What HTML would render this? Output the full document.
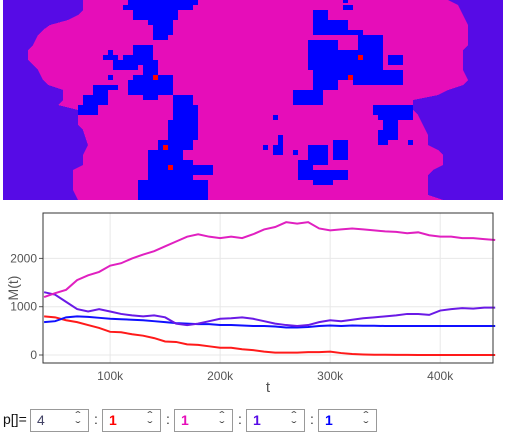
<!DOCTYPE html>
<html><head><meta charset="utf-8"><style>
body{margin:0;width:506px;height:434px;background:#fff;overflow:hidden;font-family:"Liberation Sans","DejaVu Sans",sans-serif;position:relative}
.ctl{position:absolute;top:409px;height:23px;width:59px;border:1px solid #999;box-sizing:border-box;font-size:14px;line-height:21px;padding-left:6px;font-weight:bold}
.sp{position:absolute;right:8px;top:1px;font-size:12px;line-height:10px;color:#444;font-weight:normal;text-align:center;transform:scaleX(1.3)}
.sep{position:absolute;top:411px;font-size:14px;color:#333}
</style></head><body>
<svg style="position:absolute;left:0;top:0" width="506" height="200" shape-rendering="crispEdges">
<rect x="3" y="0" width="500" height="200" fill="#e60db9"/>
<polygon fill="#560be6" points="3,0 83,0 83,10 78,15 68,20 50,25 43,30 38,35 33,45 28,50 28,60 33,65 38,70 43,80 48,85 63,90 63,100 58,105 78,110 78,125 83,130 88,145 83,155 83,165 73,170 73,190 78,200 3,200"/>
<polygon fill="#560be6" points="448,0 458,5 463,15 468,25 468,45 463,50 463,70 468,80 463,85 448,90 438,95 413,100 413,110 418,115 423,125 428,135 428,145 438,150 443,155 443,165 433,170 428,175 428,195 443,200 503,200 503,0"/>
<g fill="#0000ff">
<rect x="128" y="0" width="70" height="5"/><rect x="123" y="5" width="70" height="5"/><rect x="133" y="10" width="45" height="10"/><rect x="148" y="20" width="25" height="5"/><rect x="153" y="25" width="20" height="10"/><rect x="153" y="35" width="15" height="5"/>
<rect x="133" y="45" width="20" height="20"/><rect x="108" y="50" width="5" height="5"/><rect x="103" y="55" width="15" height="5"/><rect x="123" y="55" width="15" height="5"/><rect x="113" y="60" width="25" height="10"/><rect x="143" y="60" width="15" height="15"/><rect x="108" y="75" width="5" height="5"/><rect x="133" y="75" width="40" height="5"/><rect x="128" y="80" width="45" height="15"/><rect x="93" y="85" width="25" height="5"/><rect x="93" y="90" width="15" height="5"/><rect x="83" y="95" width="25" height="10"/><rect x="143" y="95" width="15" height="5"/><rect x="78" y="105" width="20" height="10"/>
<rect x="173" y="95" width="20" height="25"/><rect x="183" y="105" width="15" height="20"/><rect x="168" y="120" width="30" height="20"/><rect x="158" y="140" width="35" height="10"/><rect x="148" y="150" width="35" height="10"/><rect x="148" y="165" width="65" height="10"/><rect x="148" y="160" width="45" height="40"/><rect x="138" y="180" width="70" height="20"/>
<rect x="313" y="10" width="15" height="20"/><rect x="323" y="20" width="25" height="10"/><rect x="313" y="30" width="50" height="5"/><rect x="358" y="35" width="25" height="45"/><rect x="308" y="40" width="30" height="30"/><rect x="338" y="50" width="20" height="30"/><rect x="313" y="60" width="25" height="30"/><rect x="293" y="90" width="30" height="15"/><rect x="353" y="70" width="50" height="15"/><rect x="388" y="55" width="15" height="10"/><rect x="343" y="5" width="10" height="5"/><rect x="343" y="0" width="5" height="3"/>
<rect x="373" y="105" width="40" height="10"/><rect x="378" y="110" width="35" height="10"/><rect x="383" y="120" width="15" height="20"/><rect x="378" y="130" width="10" height="15"/>
<rect x="333" y="140" width="15" height="20"/><rect x="308" y="145" width="20" height="20"/><rect x="298" y="160" width="15" height="20"/><rect x="303" y="170" width="45" height="10"/><rect x="313" y="175" width="20" height="10"/>
<rect x="273" y="115" width="5" height="5"/><rect x="278" y="135" width="5" height="10"/><rect x="263" y="145" width="5" height="5"/><rect x="273" y="145" width="10" height="10"/><rect x="293" y="150" width="5" height="5"/><rect x="408" y="140" width="5" height="5"/>
</g>
<g fill="#ff0000"><rect x="153" y="75" width="5" height="5"/><rect x="163" y="145" width="5" height="5"/><rect x="168" y="165" width="5" height="5"/><rect x="358" y="55" width="5" height="5"/><rect x="348" y="75" width="5" height="5"/></g>
</svg>
<svg id="chart" style="position:absolute;left:0;top:200px" width="506" height="200"></svg>
<span style="position:absolute;left:3px;top:411px;font-size:14px;color:#111">p[]=</span>
<div class="ctl" style="left:30px;color:#446;font-weight:normal">4<span class="sp">ˆ<br>ˇ</span></div>
<span class="sep" style="left:94px">:</span>
<div class="ctl" style="left:102px;color:#f00">1<span class="sp">ˆ<br>ˇ</span></div>
<span class="sep" style="left:166px">:</span>
<div class="ctl" style="left:174px;color:#e60db9">1<span class="sp">ˆ<br>ˇ</span></div>
<span class="sep" style="left:238px">:</span>
<div class="ctl" style="left:246px;color:#560be6">1<span class="sp">ˆ<br>ˇ</span></div>
<span class="sep" style="left:310px">:</span>
<div class="ctl" style="left:318px;color:#00f">1<span class="sp">ˆ<br>ˇ</span></div>
<script>
const tValues=[40,50,60,70,80,90,100,110,120,130,140,150,160,170,180,190,200,210,220,230,240,250,260,270,280,290,300,310,320,330,340,350,360,370,380,390,400,410,420,430,440,450];
const pinkSeries=[1200,1280,1350,1550,1650,1720,1850,1900,2000,2080,2150,2250,2350,2450,2500,2450,2420,2450,2420,2500,2600,2650,2750,2720,2750,2620,2580,2600,2620,2600,2580,2560,2550,2520,2540,2480,2450,2450,2420,2420,2400,2380];
const purpleSeries=[1300,1250,1100,950,900,950,900,850,820,800,820,780,650,620,650,700,750,760,780,750,700,650,620,600,620,680,720,700,730,760,780,800,820,850,850,830,920,950,970,960,980,980];
const blueSeries=[680,700,780,800,790,770,750,740,730,720,700,680,660,650,640,640,620,620,610,600,600,590,570,570,580,600,610,600,610,605,605,600,600,600,600,600,600,600,600,600,600,600];
const redSeries=[800,780,720,680,620,560,480,470,430,400,350,280,270,220,210,180,150,150,120,100,70,50,50,50,60,60,70,40,20,10,5,5,3,2,0,0,0,0,0,0,0,0];
const xTicks=[100,200,300,400];
const xTickLabels=["100k","200k","300k","400k"];
const yTicks=[0,1000,2000];
const yTickLabels=["0","1000","2000"];
const NS="http://www.w3.org/2000/svg";
const svg=document.getElementById('chart');
const L=43,R=493,T=13,B=163;
const xs=t=>L+(t-39)*(R-L)/(448-39);
const ys=v=>155-v*0.0483;
function mk(tag,attrs){const e=document.createElementNS(NS,tag);for(const k in attrs)e.setAttribute(k,attrs[k]);svg.appendChild(e);return e;}
xTicks.forEach((t,i)=>{
 const g=mk('line',{x1:xs(t),x2:xs(t),y1:T,y2:B,stroke:'#e8e8e8'});
 
 
 const tx=mk('text',{x:xs(t),y:B+17,'text-anchor':'middle','font-size':12,fill:'#555'});
 tx.textContent=xTickLabels[i];
 
 
});
yTicks.forEach((v,i)=>{
 const g=mk('line',{x1:L,x2:R,y1:ys(v),y2:ys(v),stroke:'#e8e8e8'});
 
 
 mk('line',{x1:L-4,x2:L,y1:ys(v),y2:ys(v),stroke:'#555'});
 const tx=mk('text',{x:L-6,y:ys(v)+4,'text-anchor':'end','font-size':12,fill:'#555'});
 tx.textContent=yTickLabels[i];
 
 
});
[[redSeries,'#ff1a1a','red-series'],[blueSeries,'#1010ff','blue-series'],[purpleSeries,'#6a1ae6','purple-series'],[pinkSeries,'#e020c0','pink-series']].forEach(([s,c,n])=>{
 const p=mk('polyline',{points:s.map((v,i)=>xs(tValues[i])+','+ys(v)).join(' '),fill:'none',stroke:c,'stroke-width':2});
 
 
});
const frame=mk('rect',{x:L,y:T,width:R-L,height:B-T,fill:'none',stroke:'#333','stroke-width':1});


const xt=mk('text',{x:268,y:192,'text-anchor':'middle','font-size':15,fill:'#555'});
xt.textContent='t';


const yt=mk('text',{x:0,y:0,'text-anchor':'middle','font-size':14,fill:'#555',transform:'translate(18,88) rotate(-90)'});
yt.textContent='M(t)';


</script>
</body></html>
